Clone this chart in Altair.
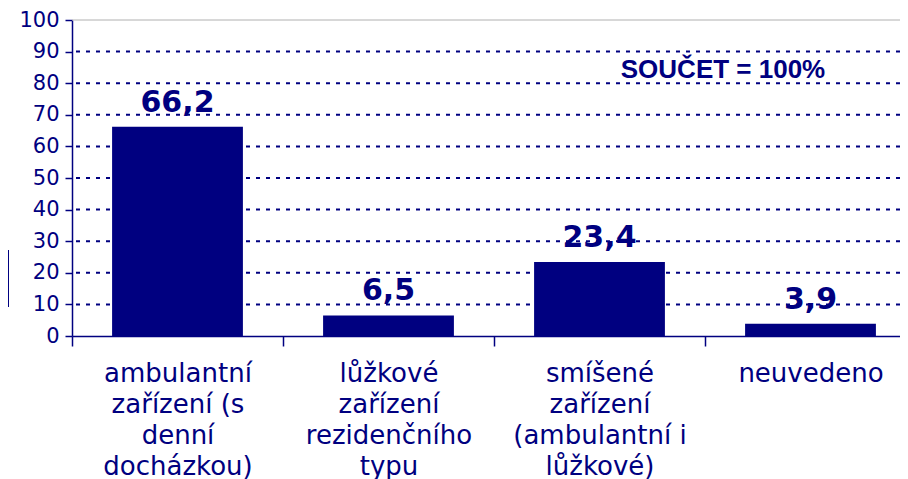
import altair as alt
import pandas as pd

categories = [
    "ambulantní|zařízení (s|denní|docházkou)",
    "lůžkové|zařízení|rezidenčního|typu",
    "smíšené|zařízení|(ambulantní i|lůžkové)",
    "neuvedeno",
]
values = [66.2, 6.5, 23.4, 3.9]
y_ticks = [0, 10, 20, 30, 40, 50, 60, 70, 80, 90, 100]
grid_ticks = [10, 20, 30, 40, 50, 60, 70, 80, 90]
note = ["SOUČET = 100%"]

navy = "#000080"
df = pd.DataFrame({"cat": categories, "value": values})

x_enc = alt.X(
    "cat:N",
    sort=categories,
    title=None,
    scale=alt.Scale(paddingInner=0, paddingOuter=0, range=[0, 844]),
    axis=alt.Axis(
        labelExpr="split(datum.label, '|')",
        labelAngle=0,
        labelFont="DejaVu Sans",
        labelFontSize=26,
        labelLineHeight=31,
        labelColor=navy,
        labelPadding=14,
        labelBaseline="top",
        labelLimit=0,
        tickBand="extent",
        tickSize=10,
        tickColor=navy,
        tickWidth=1.5,
        domainColor=navy,
        domainWidth=1.5,
        grid=False,
    ),
)

y_axis = alt.Axis(
    values=y_ticks,
    labelOverlap=False,
    title=None,
    labelFont="DejaVu Sans",
    labelFontSize=21,
    labelColor=navy,
    labelPadding=6,
    tickSize=7,
    tickColor=navy,
    tickWidth=1.5,
    domainColor=navy,
    domainWidth=1.5,
    grid=False,
)
y_scale = alt.Scale(domain=[0, 100])

base = alt.Chart(df)

grid = alt.Chart(pd.DataFrame({"value": grid_ticks})).mark_rule(
    color=navy, strokeWidth=2, strokeDash=[4, 6]
).encode(y=alt.Y("value:Q", scale=y_scale, axis=y_axis))

top_line = alt.Chart(pd.DataFrame({"value": [100]})).mark_rule(
    color="#b0b0b0", strokeWidth=1
).encode(y=alt.Y("value:Q", scale=y_scale, axis=y_axis))

bars = base.mark_bar(color=navy, width=alt.RelativeBandSize(0.62)).encode(
    x=x_enc, y=alt.Y("value:Q", scale=y_scale, axis=y_axis)
)

labels = base.transform_calculate(
    lbl="replace(format(datum.value, '.1f'), '.', ',')"
).mark_text(
    dy=-15,
    baseline="alphabetic",
    font="DejaVu Sans",
    fontWeight="bold",
    fontSize=30,
    color=navy,
).encode(x=x_enc, y=alt.Y("value:Q", scale=y_scale, axis=y_axis), text="lbl:N")

note_layer = alt.Chart(pd.DataFrame({"t": note})).mark_text(
    font="Liberation Sans",
    fontWeight="bold",
    fontSize=26,
    color=navy,
    align="center",
    baseline="alphabetic",
).encode(x=alt.value(651), y=alt.value(58), text="t:N")

legend_mark = alt.Chart(pd.DataFrame({"a": [0]})).mark_rect(color=navy).encode(
    x=alt.value(-72), x2=alt.value(-63), y=alt.value(230), y2=alt.value(287)
)

chart = alt.layer(grid, top_line, bars, labels, note_layer, legend_mark).properties(
    width=828,
    height=316,
    autosize=alt.AutoSizeParams(type="none"),
    padding={"left": 64, "top": 12, "right": 0, "bottom": 143},
).configure_view(stroke=None).configure_axisY(
    labelFont="DejaVu Sans", labelFontSize=21, labelColor=navy
)

chart.save("out.html", embed_options={"renderer": "svg", "actions": False})
